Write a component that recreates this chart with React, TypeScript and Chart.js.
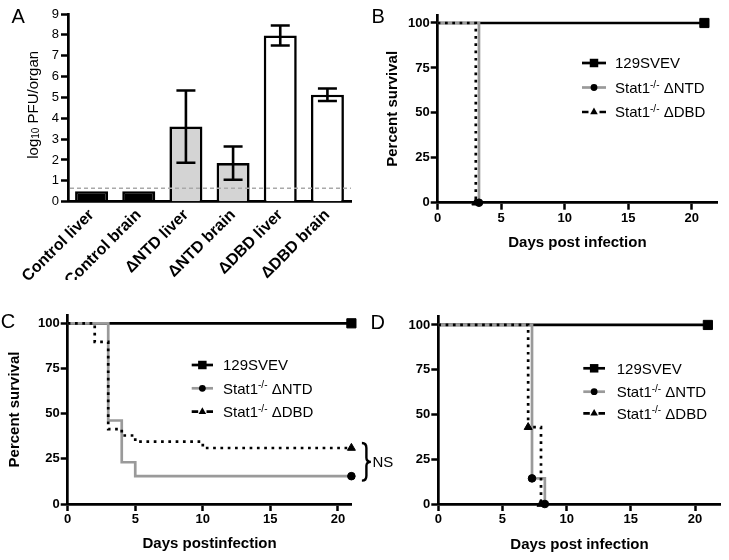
import React, { useEffect, useRef } from 'react';
import { Chart, registerables } from 'chart.js';

Chart.register(...registerables);

const FONT = '"Liberation Sans", Arial, Helvetica, sans-serif';
Chart.defaults.font.family = FONT;
Chart.defaults.color = '#000';

// ---------------- Panel A data ----------------
const organCategories = ['Control liver', 'Control brain', 'ΔNTD liver', 'ΔNTD brain', 'ΔDBD liver', 'ΔDBD brain'];
const organMeanLog10PFU = [0.5, 0.5, 3.6, 1.85, 7.97, 5.13];
const organErrorLog10PFU = [0, 0, 1.73, 0.8, 0.48, 0.3];
const detectionLimitLog10 = 0.65;
const organYTicks = [0, 1, 2, 3, 4, 5, 6, 7, 8, 9];
const organYTitle = 'log_{10} PFU/organ';

// ---------------- Survival data ----------------
const survivalSeriesNames = ['129SVEV', 'Stat1^{-/-} ΔNTD', 'Stat1^{-/-} ΔDBD'];
const survivalYTicks = [0, 25, 50, 75, 100];
const dayTicks = [0, 5, 10, 15, 20];

// Panel B
const bWtDays = [0, 21];
const bWtSurv = [100, 100];
const bNtdDays = [0, 3.25];
const bNtdSurv = [100, 0];
const bDbdDays = [0, 3];
const bDbdSurv = [100, 0];

// Panel C
const cWtDays = [0, 21];
const cWtSurv = [100, 100];
const cNtdDays = [0, 3, 4, 5, 21];
const cNtdSurv = [100, 46.2, 23.1, 15.4, 15.4];
const cDbdDays = [0, 2, 3, 4, 5, 10, 21];
const cDbdSurv = [100, 89.7, 41.4, 37.9, 34.5, 31.0, 31.0];

// Panel D
const dWtDays = [0, 21];
const dWtSurv = [100, 100];
const dNtdDays = [0, 7.3, 8.3];
const dNtdSurv = [100, 14.3, 0];
const dDbdDays = [0, 7, 8];
const dDbdSurv = [100, 42.9, 0];

// ---------------- helpers ----------------
type Seg = { t: string; k: 'n' | 'sup' | 'sub' };
function parseRich(text: string): Seg[] {
  const segs: Seg[] = [];
  const re = /(\^\{[^}]*\}|_\{[^}]*\})/g;
  let last = 0;
  let m: RegExpExecArray | null;
  while ((m = re.exec(text))) {
    if (m.index > last) segs.push({ t: text.slice(last, m.index), k: 'n' });
    segs.push({ t: m[0].slice(2, -1), k: m[0][0] === '^' ? 'sup' : 'sub' });
    last = m.index + m[0].length;
  }
  if (last < text.length) segs.push({ t: text.slice(last), k: 'n' });
  return segs;
}

function drawRich(ctx: CanvasRenderingContext2D, text: string, x: number, y: number, size: number, weight: string, align: 'left' | 'center') {
  const segs = parseRich(text);
  const small = Math.round(size * 0.67);
  const fontOf = (k: string) => `${weight} ${k === 'n' ? size : small}px ${FONT}`;
  let total = 0;
  for (const s of segs) {
    ctx.font = fontOf(s.k);
    total += ctx.measureText(s.t).width;
  }
  let cx = align === 'center' ? x - total / 2 : x;
  ctx.textAlign = 'left';
  ctx.textBaseline = 'alphabetic';
  for (const s of segs) {
    ctx.font = fontOf(s.k);
    const dy = s.k === 'sup' ? -size * 0.36 : s.k === 'sub' ? size * 0.1 : 0;
    ctx.fillText(s.t, cx, y + dy);
    cx += ctx.measureText(s.t).width;
  }
}

function drawMarker(ctx: CanvasRenderingContext2D, style: string, x: number, y: number, r: number) {
  ctx.beginPath();
  if (style === 'rect') {
    const s = Math.SQRT1_2 * r;
    ctx.rect(x - s, y - s, 2 * s, 2 * s);
  } else if (style === 'circle') {
    ctx.arc(x, y, r, 0, Math.PI * 2);
  } else {
    let rad = 0;
    ctx.moveTo(x + Math.sin(rad) * r, y - Math.cos(rad) * r);
    rad += (2 * Math.PI) / 3;
    ctx.lineTo(x + Math.sin(rad) * r, y - Math.cos(rad) * r);
    rad += (2 * Math.PI) / 3;
    ctx.lineTo(x + Math.sin(rad) * r, y - Math.cos(rad) * r);
    ctx.closePath();
  }
  ctx.fillStyle = '#000';
  ctx.fill();
}

function drawLetter(ctx: CanvasRenderingContext2D, letter: string, x: number, y: number) {
  ctx.save();
  ctx.font = `20px ${FONT}`;
  ctx.fillStyle = '#000';
  ctx.textAlign = 'left';
  ctx.textBaseline = 'alphabetic';
  ctx.fillText(letter, x, y);
  ctx.restore();
}

// ---------------- Panel A config ----------------
const panelAPlugin = {
  id: 'panelA',
  afterDatasetsDraw(chart: any) {
    const { ctx, chartArea, scales } = chart;
    const y = scales.y;
    ctx.save();
    // detection limit
    ctx.strokeStyle = '#a9a9a9';
    ctx.lineWidth = 1.5;
    ctx.setLineDash([4, 3]);
    const yy = y.getPixelForValue(detectionLimitLog10);
    ctx.beginPath();
    ctx.moveTo(chartArea.left + 2, yy);
    ctx.lineTo(chartArea.right, yy);
    ctx.stroke();
    ctx.setLineDash([]);
    // error bars
    const meta = chart.getDatasetMeta(0);
    ctx.strokeStyle = '#000';
    ctx.lineWidth = 2.6;
    meta.data.forEach((bar: any, i: number) => {
      const e = organErrorLog10PFU[i];
      if (!e) return;
      const m = organMeanLog10PFU[i];
      const yt = y.getPixelForValue(m + e);
      const yb = y.getPixelForValue(m - e);
      const x = bar.x;
      const hw = 9.5;
      ctx.beginPath();
      ctx.moveTo(x, yt);
      ctx.lineTo(x, yb);
      ctx.moveTo(x - hw, yt);
      ctx.lineTo(x + hw, yt);
      ctx.moveTo(x - hw, yb);
      ctx.lineTo(x + hw, yb);
      ctx.stroke();
    });
    ctx.restore();
  },
  afterDraw(chart: any) {
    const ctx = chart.ctx as CanvasRenderingContext2D;
    drawLetter(ctx, 'A', 11.5, 23.3);
    ctx.save();
    const { chartArea } = chart;
    ctx.translate(37.5, (chartArea.top + chartArea.bottom) / 2 - 3);
    ctx.rotate(-Math.PI / 2);
    ctx.fillStyle = '#000';
    drawRich(ctx, organYTitle, 0, 0, 15, 'normal', 'center');
    ctx.restore();
  },
};

function configA(): any {
  return {
    type: 'bar',
    data: {
      labels: organCategories,
      datasets: [
        {
          data: organMeanLog10PFU,
          backgroundColor: ['#000000', '#000000', '#d4d4d4', '#d4d4d4', '#ffffff', '#ffffff'],
          borderColor: '#000',
          borderWidth: 2.6,
          barPercentage: 0.7,
          categoryPercentage: 1,
        },
      ],
    },
    options: {
      responsive: false,
      animation: false,
      devicePixelRatio: 1,
      events: [],
      layout: { padding: { left: 0, top: 14, right: 14, bottom: 0 } },
      plugins: { legend: { display: false }, tooltip: { enabled: false } },
      scales: {
        x: {
          grid: { display: false, drawTicks: false },
          border: { display: true, color: '#000', width: 2.7 },
          ticks: { color: '#000', font: { size: 16, weight: 'bold' }, maxRotation: 45, minRotation: 45, autoSkip: false, padding: 4 },
          afterFit: (s: any) => {
            s.height = 78.3;
          },
        },
        y: {
          min: 0,
          max: 9,
          afterBuildTicks: (s: any) => {
            s.ticks = organYTicks.map((v) => ({ value: v }));
          },
          grid: { display: true, drawOnChartArea: false, drawTicks: true, tickLength: 7, tickWidth: 2.5, tickColor: '#000', color: '#000' },
          border: { display: true, color: '#000', width: 2.7 },
          ticks: { color: '#000', font: { size: 13 }, padding: 2 },
          afterFit: (s: any) => {
            s.width = 68;
          },
        },
      },
    },
    plugins: [panelAPlugin],
  };
}

// ---------------- Survival configs ----------------
const seriesStyle = [
  { color: '#000000', dash: [] as number[], point: 'rect', radius: 6.5, legendRadius: 6, order: 3 },
  { color: '#9a9a9a', dash: [] as number[], point: 'circle', radius: 3.8, legendRadius: 3.4, order: 2 },
  { color: '#000000', dash: [2.7, 4.6], point: 'triangle', radius: 4.6, legendRadius: 4.4, order: 1 },
];

type SurvivalPanel = {
  letter: string;
  letterX: number;
  letterY: number;
  series: { days: number[]; surv: number[] }[];
  markers: ('last' | 'events')[];
  xMax: number;
  yMax: number;
  yWidth: number;
  xHeight: number;
  padTop: number;
  padRight: number;
  xTitle: string;
  xTitlePad: number;
  yTitle: string | null;
  yTitlePad: number;
  legend: { x0: number; x1: number; textX: number; rows: number[] };
  brace?: boolean;
};

const panelB: SurvivalPanel = {
  letter: 'B',
  letterX: 6.5,
  letterY: 23,
  series: [
    { days: bWtDays, surv: bWtSurv },
    { days: bNtdDays, surv: bNtdSurv },
    { days: bDbdDays, surv: bDbdSurv },
  ],
  markers: ['last', 'last', 'last'],
  xMax: 22,
  yMax: 104.45,
  yWidth: 72.7,
  xHeight: 77.3,
  padTop: 15,
  padRight: 11.9,
  xTitle: 'Days post infection',
  xTitlePad: 28,
  yTitle: 'Percent survival',
  yTitlePad: 19,
  legend: { x0: 217, x1: 241, textX: 250, rows: [63, 87.5, 112] },
};

const panelC: SurvivalPanel = {
  letter: 'C',
  letterX: 0.8,
  letterY: 48,
  series: [
    { days: cWtDays, surv: cWtSurv },
    { days: cNtdDays, surv: cNtdSurv },
    { days: cDbdDays, surv: cDbdSurv },
  ],
  markers: ['last', 'last', 'last'],
  xMax: 21,
  yMax: 104.6,
  yWidth: 67.7,
  xHeight: 56,
  padTop: 35,
  padRight: 48.6,
  xTitle: 'Days postinfection',
  xTitlePad: 7,
  yTitle: 'Percent survival',
  yTitlePad: 6,
  legend: { x0: 191.7, x1: 213, textX: 223, rows: [85, 108.3, 131.7] },
  brace: true,
};

const panelD: SurvivalPanel = {
  letter: 'D',
  letterX: 5.5,
  letterY: 48.5,
  series: [
    { days: dWtDays, surv: dWtSurv },
    { days: dNtdDays, surv: dNtdSurv },
    { days: dDbdDays, surv: dDbdSurv },
  ],
  markers: ['last', 'events', 'events'],
  xMax: 22,
  yMax: 105,
  yWidth: 73.3,
  xHeight: 56,
  padTop: 36,
  padRight: 8.3,
  xTitle: 'Days post infection',
  xTitlePad: 6,
  yTitle: null,
  yTitlePad: 0,
  legend: { x0: 218.3, x1: 240, textX: 251.7, rows: [88.3, 111.7, 133.3] },
};

function makeSurvivalPlugin(p: SurvivalPanel) {
  return {
    id: 'survivalDeco' + p.letter,
    afterDraw(chart: any) {
      const ctx = chart.ctx as CanvasRenderingContext2D;
      drawLetter(ctx, p.letter, p.letterX, p.letterY);
      ctx.save();
      // legend
      p.legend.rows.forEach((ry, i) => {
        const st = seriesStyle[i];
        ctx.strokeStyle = st.color;
        ctx.lineWidth = 2.7;
        ctx.setLineDash([]);
        const { x0, x1 } = p.legend;
        ctx.beginPath();
        if (st.dash.length) {
          ctx.moveTo(x0, ry);
          ctx.lineTo(x0 + 6.5, ry);
          ctx.moveTo(x1 - 6.5, ry);
          ctx.lineTo(x1, ry);
        } else {
          ctx.moveTo(x0, ry);
          ctx.lineTo(x1, ry);
        }
        ctx.stroke();
        drawMarker(ctx, st.point, (x0 + x1) / 2, ry, st.legendRadius);
        ctx.fillStyle = '#000';
        drawRich(ctx, survivalSeriesNames[i], p.legend.textX, ry + 5.4, 15, 'normal', 'left');
      });
      // NS brace
      if (p.brace) {
        const xs = chart.scales.x;
        const ys = chart.scales.y;
        const a = p.series[2].surv[p.series[2].surv.length - 1];
        const b = p.series[1].surv[p.series[1].surv.length - 1];
        const lastDay = p.series[1].days[p.series[1].days.length - 1];
        const x0 = xs.getPixelForValue(lastDay) + 10.5;
        const top = ys.getPixelForValue(Math.max(a, b)) - 5;
        const bot = ys.getPixelForValue(Math.min(a, b)) + 4.5;
        const mid = (top + bot) / 2;
        const w = 4.5;
        ctx.strokeStyle = '#000';
        ctx.lineWidth = 2.4;
        ctx.beginPath();
        ctx.moveTo(x0, top);
        ctx.quadraticCurveTo(x0 + w, top, x0 + w, top + 5);
        ctx.lineTo(x0 + w, mid - 4);
        ctx.quadraticCurveTo(x0 + w, mid, x0 + w + 4.5, mid);
        ctx.quadraticCurveTo(x0 + w, mid, x0 + w, mid + 4);
        ctx.lineTo(x0 + w, bot - 5);
        ctx.quadraticCurveTo(x0 + w, bot, x0, bot);
        ctx.stroke();
        ctx.fillStyle = '#000';
        ctx.font = `15px ${FONT}`;
        ctx.textAlign = 'left';
        ctx.textBaseline = 'middle';
        ctx.fillText('NS', x0 + w + 6, mid + 1);
      }
      ctx.restore();
    },
  };
}

function survivalConfig(p: SurvivalPanel): any {
  const datasets = p.series.map((s, i) => {
    const st = seriesStyle[i];
    const mode = p.markers[i];
    return {
      label: survivalSeriesNames[i],
      data: s.days.map((d, j) => ({ x: d, y: s.surv[j] })),
      borderColor: st.color,
      borderWidth: 2.7,
      borderDash: st.dash,
      borderCapStyle: 'butt',
      stepped: 'before',
      tension: 0,
      fill: false,
      clip: false,
      order: st.order,
      pointStyle: st.point,
      pointRadius: s.days.map((_, j) => (mode === 'last' ? (j === s.days.length - 1 ? st.radius : 0) : j > 0 ? st.radius : 0)),
      pointHoverRadius: 0,
      pointBackgroundColor: '#000',
      pointBorderColor: '#000',
      pointBorderWidth: 1,
    };
  });
  return {
    type: 'line',
    data: { datasets },
    options: {
      responsive: false,
      animation: false,
      devicePixelRatio: 1,
      events: [],
      layout: { padding: { left: 0, top: p.padTop, right: p.padRight, bottom: 0 } },
      plugins: { legend: { display: false }, tooltip: { enabled: false } },
      scales: {
        x: {
          type: 'linear',
          min: 0,
          max: p.xMax,
          afterBuildTicks: (s: any) => {
            s.ticks = dayTicks.map((v) => ({ value: v }));
          },
          grid: { display: true, drawOnChartArea: false, drawTicks: true, tickLength: 7, tickWidth: 2.5, tickColor: '#000', color: '#000' },
          border: { display: true, color: '#000', width: 2.7 },
          ticks: { color: '#000', font: { size: 13, weight: 'bold' }, padding: 1, maxRotation: 0 },
          title: {
            display: true,
            text: p.xTitle,
            color: '#000',
            font: { size: 15, weight: 'bold' },
            padding: { top: 0, bottom: p.xTitlePad },
          },
          afterFit: (s: any) => {
            s.height = p.xHeight;
          },
        },
        y: {
          type: 'linear',
          min: 0,
          max: p.yMax,
          afterBuildTicks: (s: any) => {
            s.ticks = survivalYTicks.map((v) => ({ value: v }));
          },
          grid: { display: true, drawOnChartArea: false, drawTicks: true, tickLength: 7, tickWidth: 2.5, tickColor: '#000', color: '#000' },
          border: { display: true, color: '#000', width: 2.7 },
          ticks: { color: '#000', font: { size: 13, weight: 'bold' }, padding: 1 },
          title: {
            display: !!p.yTitle,
            text: p.yTitle || '',
            color: '#000',
            font: { size: 15, weight: 'bold' },
            padding: { top: p.yTitlePad, bottom: 0 },
          },
          afterFit: (s: any) => {
            s.width = p.yWidth;
          },
        },
      },
    },
    plugins: [makeSurvivalPlugin(p)],
  };
}

// ---------------- components ----------------
function ChartCanvas(props: { make: () => any; left: number; top: number; width: number; height: number }) {
  const ref = useRef<HTMLCanvasElement>(null);
  useEffect(() => {
    const chart = new Chart(ref.current as HTMLCanvasElement, props.make());
    return () => chart.destroy();
  }, []);
  return (
    <canvas
      ref={ref}
      width={props.width}
      height={props.height}
      style={{ position: 'absolute', left: props.left, top: props.top, width: props.width, height: props.height }}
    />
  );
}

export default function App() {
  return (
    <div style={{ position: 'absolute', left: 0, top: 0, width: 729, height: 560, background: '#fff', overflow: 'hidden' }}>
      <ChartCanvas make={configA} left={0} top={0} width={365} height={280} />
      <ChartCanvas make={() => survivalConfig(panelB)} left={365} top={0} width={364} height={280} />
      <ChartCanvas make={() => survivalConfig(panelC)} left={0} top={280} width={400} height={280} />
      <ChartCanvas make={() => survivalConfig(panelD)} left={365} top={280} width={364} height={280} />
    </div>
  );
}
